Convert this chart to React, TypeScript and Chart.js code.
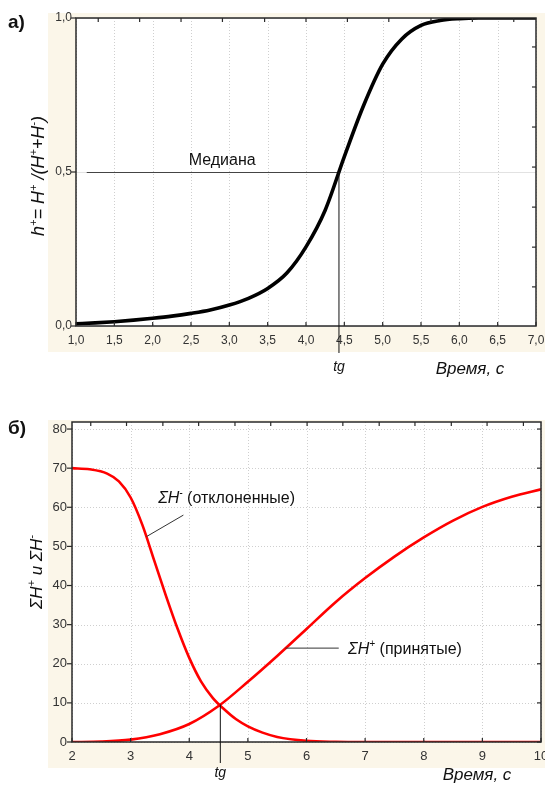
import React, { useEffect, useRef } from "react";
import { Chart, registerables } from "chart.js";

Chart.register(...registerables);

const FONT = '"Liberation Sans", Arial, sans-serif';
const CREAM = "#fbf6e9";
const GRID = "#cfcfcf";
const AXIS = "#2a2a2a";
const TICKTXT = "#333333";

// ---------- Chart а) ----------
const timeA = [1.0, 1.25, 1.5, 1.75, 2.0, 2.25, 2.5, 2.75, 3.0, 3.25, 3.5, 3.75, 4.0, 4.25, 4.5, 4.75, 5.0, 5.25, 5.5, 5.75, 6.0, 6.25, 6.5, 6.75, 7.0];
const shareA = [0.007, 0.01, 0.014, 0.019, 0.025, 0.032, 0.041, 0.052, 0.068, 0.09, 0.122, 0.172, 0.257, 0.376, 0.55, 0.715, 0.85, 0.932, 0.976, 0.992, 0.998, 1.0, 1.0, 1.0, 1.0];
const xTicksA = [1.0, 1.5, 2.0, 2.5, 3.0, 3.5, 4.0, 4.5, 5.0, 5.5, 6.0, 6.5, 7.0];
const xTickLabelsA = ["1,0", "1,5", "2,0", "2,5", "3,0", "3,5", "4,0", "4,5", "5,0", "5,5", "6,0", "6,5", "7,0"];
const yTicksA = [0, 0.5, 1.0];
const yTickLabelsA = ["0,0", "0,5", "1,0"];
const topTicksA = [1.29, 1.83, 2.37, 2.91, 3.46, 4.0, 4.54, 5.08, 5.63, 6.17, 6.71];
const rightTicksA = [0.127, 0.256, 0.386, 0.516, 0.646, 0.776, 0.906];
const tgA = 4.43;
const medianValue = 0.5;
const medianLineStart = 1.14;
const medianLabelPos = [2.47, 0.542];

// ---------- Chart б) ----------
const timeRejected = [2.0, 2.3, 2.6, 2.8, 3.0, 3.2, 3.4, 3.6, 3.8, 4.0, 4.2, 4.4, 4.6, 4.8, 5.0, 5.25, 5.5, 6.0, 6.5, 7.0, 8.0, 9.0, 10.0];
const rejected = [70, 69.7, 68.6, 66.6, 62.5, 55.5, 46.5, 37.5, 29, 21.5, 15.5, 11.3, 8.3, 5.8, 4.0, 2.4, 1.3, 0.3, 0.05, 0, 0, 0, 0];
const timeAccepted = [2.0, 2.5, 3.0, 3.5, 4.0, 4.5, 5.0, 5.5, 6.0, 6.5, 7.0, 7.5, 8.0, 8.5, 9.0, 9.5, 10.0];
const accepted = [0, 0.1, 0.6, 2.0, 4.6, 9.2, 15.4, 22.0, 28.9, 35.8, 41.9, 47.4, 52.3, 56.6, 60.1, 62.7, 64.6];
const xTicksB = [2, 3, 4, 5, 6, 7, 8, 9, 10];
const xTickLabelsB = ["2", "3", "4", "5", "6", "7", "8", "9", "10"];
const yTicksB = [0, 10, 20, 30, 40, 50, 60, 70, 80];
const yTickLabelsB = ["0", "10", "20", "30", "40", "50", "60", "70", "80"];
const topTicksB = [2.32, 2.93, 3.55, 4.16, 4.78, 5.39, 6.01, 6.62, 7.24, 7.85, 8.47, 9.08, 9.7];
const tgB = 4.53;
const crossValue = 9.6;
const rejectedLabelPos = [3.47, 62.6];
const rejectedPointer = [3.27, 52.5, 3.9, 58.0];
const acceptedLabelPos = [6.71, 24.0];
const acceptedPointer = [5.64, 24.0, 6.55, 24.0];

type Seg = { t: string; it?: boolean; sup?: boolean; bold?: boolean };

function segFont(s: Seg, size: number) {
  const sz = s.sup ? Math.round(size * 0.62) : size;
  return `${s.it ? "italic " : ""}${s.bold ? "bold " : ""}${sz}px ${FONT}`;
}
function richWidth(ctx: CanvasRenderingContext2D, segs: Seg[], size: number) {
  let w = 0;
  for (const s of segs) {
    ctx.font = segFont(s, size);
    w += ctx.measureText(s.t).width;
  }
  return w;
}
function drawRich(ctx: CanvasRenderingContext2D, segs: Seg[], x: number, yMid: number, size: number, align: string, color: string) {
  const w = richWidth(ctx, segs, size);
  let cx = align === "left" ? x : align === "center" ? x - w / 2 : x - w;
  const base = yMid + size * 0.36;
  ctx.fillStyle = color;
  ctx.textBaseline = "alphabetic";
  ctx.textAlign = "left";
  for (const s of segs) {
    ctx.font = segFont(s, size);
    ctx.fillText(s.t, cx, s.sup ? base - size * 0.4 : base);
    cx += ctx.measureText(s.t).width;
  }
}
function drawRotated(ctx: CanvasRenderingContext2D, segs: Seg[], cx: number, cy: number, size: number, color: string) {
  ctx.save();
  ctx.translate(cx, cy);
  ctx.rotate(-Math.PI / 2);
  drawRich(ctx, segs, 0, 0, size, "center", color);
  ctx.restore();
}
function seg(ctx: CanvasRenderingContext2D, x0: number, y0: number, x1: number, y1: number) {
  ctx.beginPath();
  ctx.moveTo(x0, y0);
  ctx.lineTo(x1, y1);
  ctx.stroke();
}

interface FrameCfg {
  cream: [number, number, number, number];
  xTicks: number[];
  xLabels: string[];
  yTicks: number[];
  yLabels: string[];
  topTicks: number[];
  rightTicks: number[];
  gridY: boolean;
  xLabelY: number;
  yLabelX: number;
  labelSize: number;
}

function framePlugin(id: string, cfg: FrameCfg, extra: (chart: any) => void, under: (chart: any) => void) {
  return {
    id,
    beforeDraw(chart: any) {
      const { ctx, chartArea: a } = chart;
      const xs = chart.scales.x;
      const ys = chart.scales.y;
      ctx.save();
      ctx.fillStyle = "#ffffff";
      ctx.fillRect(0, 0, chart.width, chart.height);
      const [cx0, cy0, cx1, cy1] = cfg.cream;
      ctx.fillStyle = CREAM;
      ctx.fillRect(cx0, cy0, cx1 - cx0, cy1 - cy0);
      ctx.fillStyle = "#ffffff";
      ctx.fillRect(a.left, a.top, a.right - a.left, a.bottom - a.top);
      ctx.strokeStyle = GRID;
      ctx.lineWidth = 1;
      ctx.setLineDash([1, 2]);
      for (const v of cfg.xTicks) {
        const px = Math.round(xs.getPixelForValue(v)) + 0.5;
        seg(ctx, px, a.top, px, a.bottom);
      }
      if (cfg.gridY) {
        for (const v of cfg.yTicks) {
          const py = Math.round(ys.getPixelForValue(v)) + 0.5;
          seg(ctx, a.left, py, a.right, py);
        }
      } else {
        ctx.setLineDash([]);
        ctx.strokeStyle = "#e2e2e2";
        for (const v of cfg.yTicks) {
          const py = Math.round(ys.getPixelForValue(v)) + 0.5;
          seg(ctx, a.left, py, a.right, py);
        }
      }
      ctx.setLineDash([]);
      under(chart);
      ctx.restore();
    },
    afterDatasetsDraw(chart: any) {
      const { ctx, chartArea: a } = chart;
      const xs = chart.scales.x;
      const ys = chart.scales.y;
      ctx.save();
      ctx.strokeStyle = AXIS;
      ctx.lineWidth = 1.5;
      ctx.strokeRect(a.left, a.top, a.right - a.left, a.bottom - a.top);
      ctx.lineWidth = 1.2;
      for (const v of cfg.xTicks) {
        const px = xs.getPixelForValue(v);
        seg(ctx, px, a.bottom, px, a.bottom - 4);
      }
      for (const v of cfg.topTicks) {
        const px = xs.getPixelForValue(v);
        seg(ctx, px, a.top, px, a.top + 4);
      }
      for (const v of cfg.yTicks) {
        const py = ys.getPixelForValue(v);
        seg(ctx, a.left, py, a.left - 5, py);
      }
      for (const v of cfg.rightTicks) {
        const py = ys.getPixelForValue(v);
        seg(ctx, a.right, py, a.right - 4, py);
      }
      ctx.fillStyle = TICKTXT;
      ctx.font = `${cfg.labelSize}px ${FONT}`;
      ctx.textBaseline = "middle";
      ctx.textAlign = "center";
      cfg.xTicks.forEach((v, i) => {
        ctx.fillText(cfg.xLabels[i], xs.getPixelForValue(v), cfg.xLabelY);
      });
      ctx.textAlign = "right";
      cfg.yTicks.forEach((v, i) => {
        ctx.fillText(cfg.yLabels[i], cfg.yLabelX, ys.getPixelForValue(v));
      });
      extra(chart);
      ctx.restore();
    },
  };
}

function makeChartA(canvas: HTMLCanvasElement) {
  const H = 392;
  const plugin = framePlugin(
    "decoA",
    {
      cream: [48, 13, 545, 352],
      xTicks: xTicksA,
      xLabels: xTickLabelsA,
      yTicks: yTicksA,
      yLabels: yTickLabelsA,
      topTicks: topTicksA,
      rightTicks: rightTicksA,
      gridY: false,
      xLabelY: 341,
      yLabelX: 72,
      labelSize: 12,
    },
    (chart: any) => {
      const { ctx } = chart;
      const xs = chart.scales.x;
      const ys = chart.scales.y;
      const tx = xs.getPixelForValue(tgA);
      ctx.strokeStyle = "#111";
      ctx.lineWidth = 1;
      seg(ctx, tx, ys.getPixelForValue(medianValue), tx, 353);
      drawRich(ctx, [{ t: "Медиана" }], xs.getPixelForValue(medianLabelPos[0]), ys.getPixelForValue(medianLabelPos[1]), 16, "left", "#111");
      drawRich(ctx, [{ t: "tg", it: true }], tx, 366, 14, "center", "#111");
      drawRich(ctx, [{ t: "Время, с", it: true }], 470, 368, 17, "center", "#111");
      drawRich(ctx, [{ t: "а)", bold: true }], 8, 21, 19, "left", "#111");
      drawRotated(
        ctx,
        [
          { t: "h", it: true },
          { t: "+", it: true, sup: true },
          { t: "= H", it: true },
          { t: "+", it: true, sup: true },
          { t: " /(H", it: true },
          { t: "+", it: true, sup: true },
          { t: "+H", it: true },
          { t: "-", it: true, sup: true },
          { t: ")", it: true },
        ],
        38,
        176,
        18,
        "#111"
      );
    },
    (chart: any) => {
      const { ctx } = chart;
      const xs = chart.scales.x;
      const ys = chart.scales.y;
      const py = Math.round(ys.getPixelForValue(medianValue)) + 0.5;
      ctx.strokeStyle = "#444";
      ctx.lineWidth = 1;
      seg(ctx, xs.getPixelForValue(medianLineStart), py, xs.getPixelForValue(tgA), py);
    }
  );
  return new Chart(canvas, {
    type: "line",
    data: {
      datasets: [
        {
          data: timeA.map((t, i) => ({ x: t, y: shareA[i] })),
          borderColor: "#000000",
          borderWidth: 3.6,
          pointRadius: 0,
          cubicInterpolationMode: "monotone",
          fill: false,
        },
      ],
    },
    options: {
      responsive: false,
      animation: false,
      devicePixelRatio: 1,
      layout: { padding: { left: 0, top: 18, right: 9, bottom: 0 } },
      plugins: { legend: { display: false }, tooltip: { enabled: false } },
      scales: {
        x: {
          type: "linear",
          min: 1,
          max: 7,
          ticks: { display: false, stepSize: 0.5 },
          grid: { display: false },
          border: { display: false },
          afterFit: (s: any) => {
            s.height = H - 326;
          },
        },
        y: {
          type: "linear",
          min: 0,
          max: 1,
          ticks: { display: false, stepSize: 0.5 },
          grid: { display: false },
          border: { display: false },
          afterFit: (s: any) => {
            s.width = 76;
          },
        },
      },
    },
    plugins: [plugin],
  } as any);
}

function makeChartB(canvas: HTMLCanvasElement) {
  const H = 393;
  const plugin = framePlugin(
    "decoB",
    {
      cream: [48, 28, 545, 376],
      xTicks: xTicksB,
      xLabels: xTickLabelsB,
      yTicks: yTicksB,
      yLabels: yTickLabelsB,
      topTicks: topTicksB,
      rightTicks: yTicksB,
      gridY: true,
      xLabelY: 364,
      yLabelX: 67,
      labelSize: 13,
    },
    (chart: any) => {
      const { ctx } = chart;
      const xs = chart.scales.x;
      const ys = chart.scales.y;
      const tx = xs.getPixelForValue(tgB);
      ctx.strokeStyle = "#111";
      ctx.lineWidth = 1;
      seg(ctx, tx, ys.getPixelForValue(crossValue), tx, 371);
      ctx.strokeStyle = "#333";
      seg(ctx, xs.getPixelForValue(rejectedPointer[0]), ys.getPixelForValue(rejectedPointer[1]), xs.getPixelForValue(rejectedPointer[2]), ys.getPixelForValue(rejectedPointer[3]));
      seg(ctx, xs.getPixelForValue(acceptedPointer[0]), ys.getPixelForValue(acceptedPointer[1]), xs.getPixelForValue(acceptedPointer[2]), ys.getPixelForValue(acceptedPointer[3]));
      drawRich(
        ctx,
        [{ t: "ΣH", it: true }, { t: "-", it: true, sup: true }, { t: " (отклоненные)" }],
        xs.getPixelForValue(rejectedLabelPos[0]),
        ys.getPixelForValue(rejectedLabelPos[1]),
        16,
        "left",
        "#111"
      );
      drawRich(
        ctx,
        [{ t: "ΣH", it: true }, { t: "+", it: true, sup: true }, { t: " (принятые)" }],
        xs.getPixelForValue(acceptedLabelPos[0]),
        ys.getPixelForValue(acceptedLabelPos[1]),
        16,
        "left",
        "#111"
      );
      drawRich(ctx, [{ t: "tg", it: true }], tx, 380, 14, "center", "#111");
      drawRich(ctx, [{ t: "Время, с", it: true }], 477, 382, 17, "center", "#111");
      drawRich(ctx, [{ t: "б)", bold: true }], 8, 35, 19, "left", "#111");
      drawRotated(
        ctx,
        [
          { t: "ΣH", it: true },
          { t: "+", it: true, sup: true },
          { t: " и ΣH", it: true },
          { t: "-", it: true, sup: true },
        ],
        36,
        180,
        17,
        "#111"
      );
    },
    () => {}
  );
  return new Chart(canvas, {
    type: "line",
    data: {
      datasets: [
        {
          data: timeRejected.map((t, i) => ({ x: t, y: rejected[i] })),
          borderColor: "#ff0000",
          borderWidth: 2.6,
          pointRadius: 0,
          cubicInterpolationMode: "monotone",
          fill: false,
        },
        {
          data: timeAccepted.map((t, i) => ({ x: t, y: accepted[i] })),
          borderColor: "#ff0000",
          borderWidth: 2.6,
          pointRadius: 0,
          cubicInterpolationMode: "monotone",
          fill: false,
        },
      ],
    },
    options: {
      responsive: false,
      animation: false,
      devicePixelRatio: 1,
      layout: { padding: { left: 0, top: 30, right: 4, bottom: 0 } },
      plugins: { legend: { display: false }, tooltip: { enabled: false } },
      scales: {
        x: {
          type: "linear",
          min: 2,
          max: 10,
          ticks: { display: false, stepSize: 1 },
          grid: { display: false },
          border: { display: false },
          afterFit: (s: any) => {
            s.height = H - 350;
          },
        },
        y: {
          type: "linear",
          min: 0,
          max: 81.8,
          ticks: { display: false, stepSize: 10, includeBounds: false },
          grid: { display: false },
          border: { display: false },
          afterFit: (s: any) => {
            s.width = 72;
          },
        },
      },
    },
    plugins: [plugin],
  } as any);
}

export default function App() {
  const refA = useRef<HTMLCanvasElement | null>(null);
  const refB = useRef<HTMLCanvasElement | null>(null);
  useEffect(() => {
    const a = makeChartA(refA.current!);
    const b = makeChartB(refB.current!);
    return () => {
      a.destroy();
      b.destroy();
    };
  }, []);
  return (
    <div style={{ position: "absolute", left: 0, top: 0, width: 545, height: 785, background: "#fff", overflow: "hidden" }}>
      <canvas ref={refA} width={545} height={392} style={{ position: "absolute", left: 0, top: 0, width: 545, height: 392 }} />
      <canvas ref={refB} width={545} height={393} style={{ position: "absolute", left: 0, top: 392, width: 545, height: 393 }} />
    </div>
  );
}
